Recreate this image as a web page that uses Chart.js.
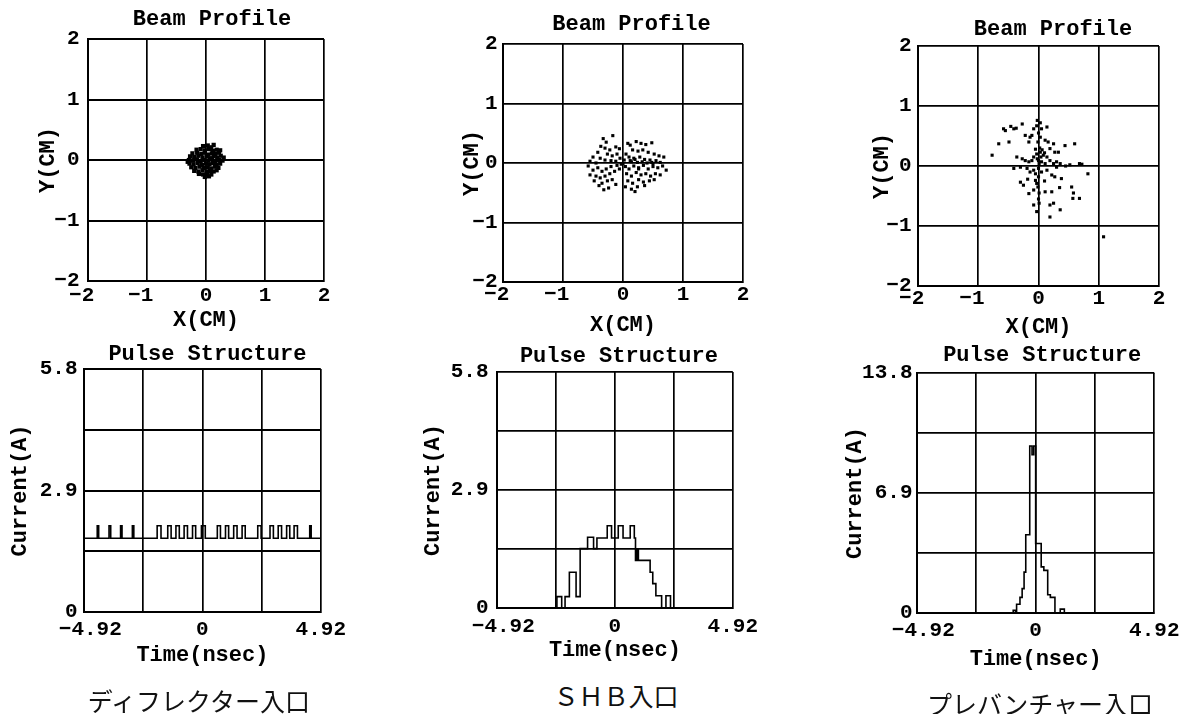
<!DOCTYPE html>
<html lang="ja">
<head>
<meta charset="UTF-8">
<title>Beam Profile / Pulse Structure</title>
<script src="https://cdn.jsdelivr.net/npm/chart.js"></script>
<style>
  body { margin: 0; background: #fff; overflow: hidden; }
  #page { position: relative; width: 1188px; height: 714px; }
  canvas { position: absolute; }
  .cap { position: absolute; font-family: "Noto Sans CJK JP", sans-serif; font-size: 25px; color: #111; transform: translate(-50%, -50%); white-space: nowrap; }
</style>
</head>
<body>
<div id="page">
  <canvas id="p1"></canvas>
  <canvas id="p2"></canvas>
  <canvas id="p3"></canvas>
  <canvas id="b1"></canvas>
  <canvas id="b2"></canvas>
  <canvas id="b3"></canvas>
  <div class="cap" style="left:199px; top:700px">ディフレクター入口</div>
  <div class="cap" style="left:616px; top:695px">ＳＨＢ入口</div>
  <div class="cap" style="left:1040px; top:703px">プレバンチャー入口</div>
</div>

<script>
// axis ticks
const beamTicks = [-2, -1, 0, 1, 2];
const beamXLabels = ['−2 ', '−1 ', '0', '1', '2'];
const beamYLabels = ['−2', '−1', '0', '1', '2'];
const timeTicks = [-4.92, -2.46, 0, 2.46, 4.92];
const timeLabels = [' −4.92', '', '0', '', '4.92'];
const curTicks1 = [0, 1.45, 2.9, 4.35, 5.8];
const curLabels1 = ['0', '', '2.9', '', '5.8'];
const curTicks3 = [0, 3.45, 6.9, 10.35, 13.8];
const curLabels3 = ['0', '', '6.9', '', '13.8'];

// beam profile particles (x cm, y cm)
const deflBeam = [
  [-0.05,0.23],[0.03,0.24],[0.09,0.21],[0.13,0.25],
  [-0.16,0.17],[-0.09,0.18],[-0.02,0.16],[0.05,0.18],[0.12,0.15],[0.18,0.17],
  [-0.23,0.11],[-0.15,0.12],[-0.08,0.10],[-0.02,0.12],[0.04,0.09],[0.10,0.11],[0.16,0.10],[0.22,0.12],
  [-0.27,0.06],[-0.20,0.05],[-0.13,0.07],[-0.06,0.04],[0.01,0.06],[0.07,0.03],[0.13,0.06],[0.19,0.04],[0.25,0.07],
  [-0.29,0.00],[-0.22,-0.01],[-0.15,0.01],[-0.09,-0.02],[-0.03,0.00],[0.04,-0.01],[0.10,0.01],[0.16,-0.02],[0.22,0.00],[0.28,-0.01],
  [-0.28,-0.06],[-0.21,-0.07],[-0.14,-0.05],[-0.07,-0.08],[0.00,-0.06],[0.06,-0.07],[0.12,-0.05],[0.18,-0.08],[0.24,-0.06],
  [-0.25,-0.12],[-0.18,-0.13],[-0.11,-0.11],[-0.04,-0.13],[0.03,-0.12],[0.09,-0.14],[0.15,-0.11],[0.21,-0.13],
  [-0.20,-0.18],[-0.13,-0.19],[-0.06,-0.17],[0.01,-0.19],[0.07,-0.18],[0.13,-0.19],[0.18,-0.17],
  [-0.12,-0.23],[-0.05,-0.24],[0.02,-0.23],[0.09,-0.24],
  [-0.02,-0.28],[0.05,-0.27],[0.24,0.16],[0.30,0.04],[-0.31,-0.03]
];
const shbBeam = [
  [-0.17,0.46],[-0.33,0.41],[-0.28,0.35],[-0.37,0.28],[-0.30,0.25],[-0.22,0.22],[-0.12,0.27],[-0.06,0.24],
  [-0.42,0.18],[-0.26,0.15],[-0.18,0.12],[-0.10,0.15],[-0.50,0.10],[-0.38,0.08],[-0.30,0.05],[-0.20,0.04],
  [-0.55,0.03],[-0.45,0.00],[-0.12,0.03],[-0.05,0.08],
  [0.08,0.33],[0.12,0.30],[0.22,0.36],[0.30,0.33],[0.38,0.31],[0.48,0.34],[0.16,0.22],[0.25,0.20],[0.33,0.22],
  [0.42,0.18],[0.52,0.15],[0.60,0.12],[0.68,0.10],[0.05,0.15],[0.10,0.10],[0.18,0.08],[0.28,0.10],[0.36,0.06],
  [0.45,0.05],[0.55,0.04],[0.02,0.05],[0.14,0.02],[0.24,0.01],[0.32,0.02],[0.40,0.00],[0.50,-0.01],[0.62,0.01],
  [-0.58,-0.05],[-0.50,-0.12],[-0.42,-0.08],[-0.35,-0.14],[-0.28,-0.10],[-0.20,-0.06],[-0.10,-0.04],
  [-0.55,-0.20],[-0.45,-0.22],[-0.38,-0.25],[-0.30,-0.22],[-0.22,-0.18],[-0.14,-0.14],[-0.06,-0.10],
  [-0.48,-0.30],[-0.35,-0.34],[-0.26,-0.30],[-0.18,-0.28],[-0.40,-0.38],[-0.24,-0.42],[-0.12,-0.36],[-0.32,-0.45],
  [0.04,-0.06],[0.10,-0.10],[0.18,-0.05],[0.26,-0.08],[0.34,-0.04],[0.42,-0.10],[0.50,-0.06],[0.58,-0.08],
  [0.66,-0.05],[0.72,-0.12],[0.06,-0.18],[0.14,-0.22],[0.22,-0.16],[0.30,-0.20],[0.38,-0.18],[0.46,-0.22],
  [0.54,-0.18],[0.62,-0.20],[0.08,-0.30],[0.16,-0.34],[0.26,-0.28],[0.34,-0.32],[0.44,-0.30],[0.52,-0.28],
  [0.04,-0.40],[0.14,-0.44],[0.24,-0.40],[0.36,-0.38],[0.20,-0.48],
  [-0.03,-0.02],[0.00,-0.01],[0.12,0.04],[0.20,0.06],[0.48,0.01],[0.26,-0.10]
];
const preBeam = [
  [-0.58,0.62],[-0.55,0.59],[-0.46,0.66],[-0.41,0.62],[-0.37,0.63],[-0.27,0.70],
  [-0.02,0.76],[-0.03,0.67],[-0.08,0.62],[0.03,0.72],[0.05,0.62],[0.14,0.65],
  [-0.22,0.51],[-0.14,0.48],[-0.16,0.40],[-0.11,0.51],[-0.66,0.37],[-0.49,0.40],[-0.77,0.18],
  [0.03,0.48],[0.11,0.43],[0.16,0.40],[0.25,0.37],[0.19,0.29],[0.27,0.23],[0.33,0.23],[0.44,0.34],[0.60,0.37],
  [-0.36,0.15],[-0.27,0.12],[-0.22,0.09],[-0.16,0.07],[-0.11,0.09],[-0.08,0.15],[-0.03,0.20],[0.03,0.23],
  [0.08,0.18],[0.14,0.15],[0.00,0.09],[0.05,0.07],[0.11,0.04],[0.19,0.09],[0.25,0.04],[0.30,0.07],[0.36,0.04],
  [0.02,0.30],[0.06,0.27],[0.10,0.22],[-0.05,0.28],[0.04,0.15],[0.01,0.04],[-0.02,0.12],
  [-0.41,-0.04],[-0.30,-0.02],[-0.19,-0.04],[-0.14,-0.10],[-0.08,-0.07],[-0.05,-0.13],[0.00,-0.04],[0.05,-0.10],
  [0.14,-0.07],[0.22,-0.15],[0.27,-0.18],[0.38,-0.21],[0.52,0.02],[0.68,0.04],[0.82,-0.13],[0.72,0.03],
  [0.30,-0.02],[0.45,0.00],
  [-0.30,-0.27],[-0.25,-0.32],[-0.08,-0.40],[-0.16,-0.46],[-0.05,-0.24],[-0.03,-0.29],[0.11,-0.43],[0.22,-0.43],
  [0.25,-0.62],[0.19,-0.65],[0.36,-0.73],[0.55,-0.35],[0.57,-0.54],[0.68,-0.54],[-0.08,-0.65],[-0.03,-0.76],
  [0.19,-0.85],[0.58,-0.45],[-0.18,-0.22],[0.10,-0.25],[0.35,-0.36],[0.00,-0.55],[-0.01,-0.35],
  [0.00,-0.18],[0.01,-0.62],[-0.01,0.40],[0.00,0.55],[0.01,-0.45],[1.08,-1.18]
];

// pulse structure, step traces (time nsec, current A; value holds until next time)
const deflT = [-4.92, -4.37, -4.31, -3.88, -3.81, -3.40, -3.34, -2.91, -2.85, -1.88, -1.72, -1.44, -1.30, -1.10, -0.96,
  -0.76, -0.62, -0.41, -0.28, -0.04, 0.12, 0.62, 0.75, 0.96, 1.09, 1.30, 1.44, 1.65, 1.78, 2.30, 2.44,
  2.81, 2.95, 3.15, 3.29, 3.50, 3.63, 3.81, 3.95, 4.46, 4.52, 4.92];
const deflI = [1.76, 2.06, 1.76, 2.06, 1.76, 2.06, 1.76, 2.06, 1.76, 2.06, 1.76, 2.06, 1.76, 2.06, 1.76,
  2.06, 1.76, 2.06, 1.76, 2.06, 1.76, 2.06, 1.76, 2.06, 1.76, 2.06, 1.76, 2.06, 1.76, 2.06, 1.76,
  2.06, 1.76, 2.06, 1.76, 2.06, 1.76, 2.06, 1.76, 2.06, 1.76, 1.76];
const shbT = [-4.92, -2.42, -2.22, -2.08, -1.90, -1.62, -1.45, -1.14, -0.89, -0.75, -0.32, -0.14, 0.14, 0.34,
  0.64, 0.81, 0.86, 0.92, 0.98, 1.47, 1.58, 1.71, 1.95, 2.13, 2.32, 4.92];
const shbI = [0, 0.28, 0, 0.28, 0.88, 0.28, 1.46, 1.74, 1.46, 1.72, 2.02, 1.72, 2.02, 1.72,
  2.02, 1.72, 1.17, 1.45, 1.17, 0.88, 0.60, 0.30, 0, 0.30, 0, 0];
const preT = [-4.92, -0.93, -0.83, -0.79, -0.65, -0.56, -0.48, -0.41, -0.245, -0.15, -0.08, 0.0, 0.23, 0.34,
  0.50, 0.61, 0.80, 1.02, 1.19, 4.92];
const preI = [0, 0.15, 0, 0.50, 0.90, 1.40, 2.35, 4.50, 9.60, 9.10, 9.60, 4.00, 2.65, 2.45,
  1.05, 0.90, 0, 0.22, 0, 0];

const MONO = '"Liberation Mono", "DejaVu Sans Mono", monospace';
const PAD_TOP = 36, Y_W = 75, X_H = 60, PAD_R = 30;

// title drawn above the plot frame
const panelTitle = {
  id: 'panelTitle',
  afterDraw(chart, args, opts) {
    const { ctx, chartArea } = chart;
    ctx.save();
    ctx.font = 'bold 22px ' + MONO;
    ctx.fillStyle = '#000';
    ctx.textAlign = 'center';
    ctx.textBaseline = 'middle';
    ctx.fillText(opts.text, (chartArea.left + chartArea.right) / 2 + opts.dx, chartArea.top - opts.dy);
    ctx.restore();
  }
};

function makeAxis(ticks, labels, min, max, title, p) {
  return {
    type: 'linear',
    min: min,
    max: max,
    afterBuildTicks: s => { s.ticks = ticks.map(v => ({ value: v })); },
    afterFit: s => { if (p.horizontal) s.height = X_H; else s.width = Y_W; },
    grid: { color: '#000', lineWidth: p.gridW || 1.7, drawTicks: false },
    border: { display: true, color: '#000', width: 2 },
    ticks: {
      autoSkip: false, maxRotation: 0, color: '#000', padding: p.tickPad - 0.5,
      font: { family: MONO, size: 21, weight: 'bold', lineHeight: 1 },
      callback: (v, i) => labels[i]
    },
    title: {
      display: true, text: title, color: '#000',
      font: { family: MONO, size: 22, weight: 'bold', lineHeight: 1 },
      padding: p.horizontal ? { top: 0, bottom: Math.max(p.titlePad - 1, 0) } : { top: Math.max(p.titlePad - 1, 0), bottom: 0 }
    }
  };
}

function makePanel(id, box, datasets, axes, titleOpts) {
  const cv = document.getElementById(id);
  const cl = box.L - Y_W, ct = box.T - PAD_TOP;
  cv.width = box.R - box.L + Y_W + PAD_R;
  cv.height = box.B - box.T + PAD_TOP + X_H;
  cv.style.left = cl + 'px';
  cv.style.top = ct + 'px';
  return new Chart(cv.getContext('2d'), {
    type: 'scatter',
    data: { datasets: datasets },
    options: {
      responsive: false,
      animation: false,
      devicePixelRatio: 1,
      layout: { padding: { top: PAD_TOP, right: PAD_R, left: 0, bottom: 0 } },
      scales: { x: axes.x, y: axes.y },
      plugins: { legend: { display: false }, tooltip: { enabled: false }, panelTitle: titleOpts }
    },
    plugins: [panelTitle]
  });
}

function dots(pts, r) {
  return {
    data: pts.map(p => ({ x: p[0], y: p[1] })),
    pointStyle: 'rect', pointRadius: r, backgroundColor: '#000', borderWidth: 0
  };
}

function steps(t, cur) {
  return {
    data: t.map((v, i) => ({ x: v, y: cur[i] })),
    showLine: true, stepped: true, borderColor: '#000', borderWidth: 1.6,
    pointRadius: 0, fill: false
  };
}

// Beam profiles
makePanel('p1', { L: 88, T: 39, R: 324, B: 281 }, [dots(deflBeam, 3)], {
  x: makeAxis(beamTicks, beamXLabels, -2, 2, 'X(CM)', { horizontal: true, tickPad: 5, titlePad: 11 }),
  y: makeAxis(beamTicks, beamYLabels, -2, 2, 'Y(CM)', { tickPad: 9, titlePad: 25.5, gridW: 2 })
}, { text: 'Beam Profile', dx: 6, dy: 20 });

makePanel('p2', { L: 503, T: 44, R: 743, B: 282 }, [dots(shbBeam, 2.2)], {
  x: makeAxis(beamTicks, beamXLabels, -2, 2, 'X(CM)', { horizontal: true, tickPad: 3, titlePad: 7 }),
  y: makeAxis(beamTicks, beamYLabels, -2, 2, 'Y(CM)', { tickPad: 6, titlePad: 34.5 })
}, { text: 'Beam Profile', dx: 8.5, dy: 19.5 });

makePanel('p3', { L: 918, T: 46, R: 1159, B: 286 }, [dots(preBeam, 2.2)], {
  x: makeAxis(beamTicks, beamXLabels, -2, 2, 'X(CM)', { horizontal: true, tickPad: 3, titlePad: 9 }),
  y: makeAxis(beamTicks, beamYLabels, -2, 2, 'Y(CM)', { tickPad: 7, titlePad: 29.5 })
}, { text: 'Beam Profile', dx: 14.5, dy: 17 });

// Pulse structures
makePanel('b1', { L: 84, T: 369, R: 323, B: 612 }, [steps(deflT, deflI)], {
  x: makeAxis(timeTicks, timeLabels, -4.92, 4.92, 'Time(nsec)', { horizontal: true, tickPad: 7.5, titlePad: 7 }),
  y: makeAxis(curTicks1, curLabels1, 0, 5.8, 'Current(A)', { tickPad: 7, titlePad: 0, gridW: 2 })
}, { text: 'Pulse Structure', dx: 5, dy: 15 });

makePanel('b2', { L: 497, T: 372, R: 736, B: 608 }, [steps(shbT, shbI)], {
  x: makeAxis(timeTicks, timeLabels, -4.92, 4.92, 'Time(nsec)', { horizontal: true, tickPad: 8.5, titlePad: 7.5 }),
  y: makeAxis(curTicks1, curLabels1, 0, 5.8, 'Current(A)', { tickPad: 9, titlePad: 0.5 })
}, { text: 'Pulse Structure', dx: 4, dy: 15.5 });

makePanel('b3', { L: 917, T: 373, R: 1157, B: 613 }, [steps(preT, preI)], {
  x: makeAxis(timeTicks, timeLabels, -4.92, 4.92, 'Time(nsec)', { horizontal: true, tickPad: 8, titlePad: 3.5 }),
  y: makeAxis(curTicks3, curLabels3, 0, 13.8, 'Current(A)', { tickPad: 5, titlePad: 3.5 })
}, { text: 'Pulse Structure', dx: 6.5, dy: 18 });
</script>
</body>
</html>
